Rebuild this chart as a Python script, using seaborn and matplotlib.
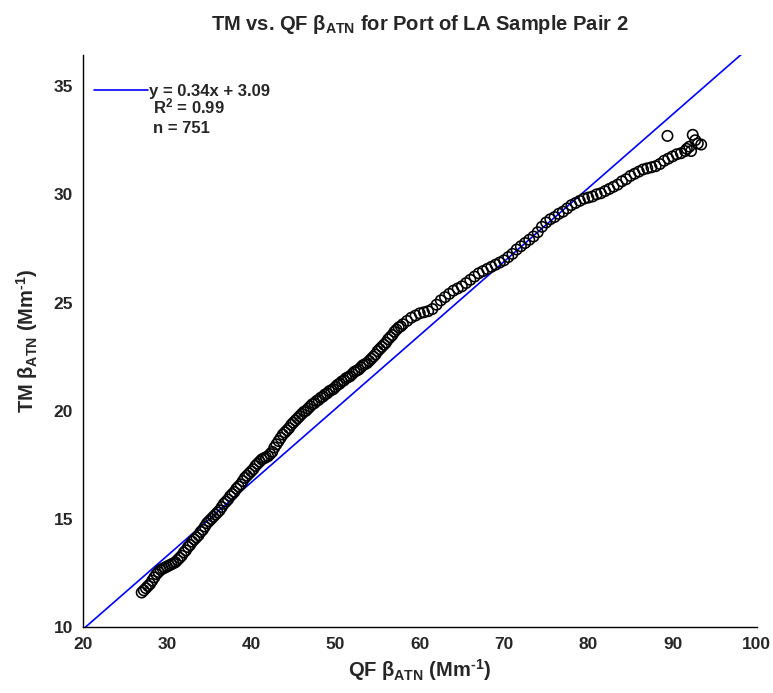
import numpy as np
import pandas as pd
import matplotlib
matplotlib.use('Agg')
import matplotlib.pyplot as plt
import seaborn as sns

# points (QF on x, TM on y)
qf = [27.0, 27.5, 28.0, 28.5, 29.0, 29.5, 30.0, 30.5, 31.0, 31.5,
      32.0, 32.5, 33.0, 33.5, 34.0, 34.5, 35.0, 35.5, 36.0, 36.5,
      37.0, 37.5, 38.0, 38.5, 39.0, 39.5, 40.0, 40.5, 41.0, 41.5,
      42.0, 42.5, 43.0, 43.5, 44.0, 44.5, 45.0, 45.5, 46.0, 46.5,
      47.0, 47.5, 48.0, 48.5, 49.0, 49.5, 50.0, 50.5, 51.0, 51.5,
      52.0, 52.5, 53.0, 53.5, 54.0, 54.5, 55.0, 55.5, 56.0, 56.5,
      57.0, 57.5, 58.0, 58.5, 59.0, 59.5, 60.0, 60.5, 61.0, 61.5,
      62.0, 62.5, 63.0, 63.5, 64.0, 64.5, 65.0, 65.5, 66.0, 66.5,
      67.0, 67.5, 68.0, 68.5, 69.0, 69.5, 70.0, 70.5, 71.0, 71.5,
      72.0, 72.5, 73.0, 73.5, 74.0, 74.5, 75.0, 75.5, 76.0, 76.5,
      77.0, 77.5, 78.0, 78.5, 79.0, 79.5, 80.0, 80.5, 81.0, 81.5,
      82.0, 82.5, 83.0, 83.5, 84.0, 84.5, 85.0, 85.5, 86.0, 86.5,
      87.0, 87.5, 88.0, 88.5, 89.0, 89.5, 90.0, 90.5, 91.0, 91.5,
      92.0, 92.4, 92.7, 93.0, 93.4, 91.7, 92.2, 89.4]
tm = [11.6, 11.8, 12.0, 12.3, 12.55, 12.7, 12.8, 12.9, 13.0, 13.2,
      13.45, 13.7, 13.95, 14.15, 14.4, 14.65, 14.9, 15.1, 15.3, 15.55,
      15.8, 16.05, 16.25, 16.5, 16.75, 17.0, 17.2, 17.45, 17.65, 17.8,
      17.9, 18.1, 18.45, 18.75, 19.0, 19.2, 19.45, 19.65, 19.85, 20.0,
      20.2, 20.35, 20.5, 20.65, 20.8, 20.95, 21.1, 21.25, 21.4, 21.55,
      21.7, 21.85, 22.0, 22.15, 22.3, 22.5, 22.75, 22.95, 23.15, 23.4,
      23.65, 23.85, 24.0, 24.15, 24.3, 24.4, 24.5, 24.55, 24.6, 24.7,
      24.9, 25.1, 25.25, 25.4, 25.55, 25.65, 25.75, 25.9, 26.05, 26.2,
      26.35, 26.45, 26.55, 26.65, 26.75, 26.85, 26.95, 27.1, 27.25, 27.45,
      27.6, 27.75, 27.9, 28.05, 28.25, 28.5, 28.7, 28.85, 28.95, 29.1,
      29.2, 29.35, 29.5, 29.6, 29.7, 29.8, 29.85, 29.9, 30.0, 30.05,
      30.15, 30.25, 30.35, 30.45, 30.6, 30.7, 30.85, 30.95, 31.05, 31.15,
      31.2, 31.25, 31.3, 31.4, 31.55, 31.65, 31.75, 31.85, 31.9, 32.0,
      32.2, 32.75, 32.5, 32.35, 32.3, 32.1, 32.0, 32.7]

# extra points read in the dense lower part of the band
qf_dense = [27.25, 27.75, 28.25, 28.75, 29.25, 29.75, 30.25, 30.75, 31.25, 31.75,
            32.25, 32.75, 33.25, 33.75, 34.25, 34.75, 35.25, 35.75, 36.25, 36.75,
            37.25, 37.75, 38.25, 38.75, 39.25, 39.75, 40.25, 40.75, 41.25, 41.75,
            42.25, 42.75, 43.25, 43.75, 44.25, 44.75, 45.25, 45.75, 46.25, 46.75,
            47.25, 47.75, 48.25, 48.75, 49.25, 49.75, 50.25, 50.75, 51.25, 51.75,
            52.25, 52.75, 53.25, 53.75, 54.25, 54.75, 55.25, 55.75, 56.25, 56.75,
            57.25, 57.75]
tm_dense = [11.7, 11.9, 12.15, 12.45, 12.65, 12.75, 12.85, 12.95, 13.1, 13.3,
            13.55, 13.8, 14.05, 14.25, 14.5, 14.8, 15.0, 15.2, 15.4, 15.7,
            15.9, 16.15, 16.4, 16.6, 16.9, 17.1, 17.3, 17.55, 17.75, 17.85,
            18.0, 18.3, 18.6, 18.9, 19.1, 19.35, 19.55, 19.75, 19.95, 20.1,
            20.3, 20.45, 20.6, 20.75, 20.9, 21.0, 21.2, 21.35, 21.5, 21.6,
            21.8, 21.9, 22.1, 22.2, 22.4, 22.6, 22.85, 23.05, 23.3, 23.5,
            23.75, 23.9]

# fit from the legend
slope = 0.34
intercept = 3.09
r2 = 0.99
n_pts = 751
fit_x = [20, 100]

sns.set_style('white')
plt.rcParams['font.family'] = ['Liberation Sans', 'DejaVu Sans']
plt.rcParams['font.weight'] = 'bold'
plt.rcParams['mathtext.fontset'] = 'custom'
plt.rcParams['mathtext.rm'] = 'Liberation Sans:bold'
plt.rcParams['mathtext.it'] = 'Liberation Sans:bold'
plt.rcParams['mathtext.bf'] = 'Liberation Sans:bold'

df = pd.DataFrame({'QF': qf + qf_dense, 'TM': tm + tm_dense})
fit = pd.DataFrame({'x': fit_x, 'y': [slope * v + intercept for v in fit_x]})

fig = plt.figure(figsize=(7.73, 6.93), dpi=100)
ax = fig.add_axes([0.107, 0.095, 0.872, 0.826])

sns.scatterplot(data=df, x='QF', y='TM', ax=ax, marker='o', s=56,
                facecolor='none', edgecolor='black', linewidth=1.15, zorder=3)
sns.lineplot(data=fit, x='x', y='y', ax=ax, color='#0000ff', linewidth=1.2,
             label='y = %.2fx + %.2f' % (slope, intercept), zorder=2)

ax.set_xlim(20, 100)
ax.set_ylim(10, 36.45)
ax.set_xticks(range(20, 101, 10))
ax.set_yticks(range(10, 36, 5))
ax.tick_params(direction='in', length=5, width=1, labelsize=12.5, pad=7)
for lab in ax.get_xticklabels() + ax.get_yticklabels():
    lab.set_fontweight('bold')
sns.despine(ax=ax)
for s in ['left', 'bottom']:
    ax.spines[s].set_linewidth(1)
    ax.spines[s].set_color('black')

ax.set_title(r'TM vs. QF $\beta_{\rm ATN}$ for Port of LA Sample Pair 2',
             fontsize=14.5, fontweight='bold', pad=18)
ax.set_xlabel(r'QF $\beta_{\rm ATN}$ (Mm$^{\text{-}1}$)', fontsize=14.5, fontweight='bold')
ax.set_ylabel(r'TM $\beta_{\rm ATN}$ (Mm$^{\text{-}1}$)', fontsize=14.5, fontweight='bold',
              labelpad=10)

leg = ax.legend(loc='upper left', frameon=False, fontsize=12, handlelength=3.2,
                handletextpad=0.1, borderaxespad=0.3, bbox_to_anchor=(0.0, 0.97))
for t in leg.get_texts():
    t.set_fontweight('bold')
ax.text(0.104, 0.909, r'R$^2$ = %.2f' % r2, transform=ax.transAxes,
        fontsize=12, fontweight='bold', va='center')
ax.text(0.104, 0.872, 'n = %d' % n_pts, transform=ax.transAxes,
        fontsize=12, fontweight='bold', va='center')

fig.savefig('out.png', dpi=100)
